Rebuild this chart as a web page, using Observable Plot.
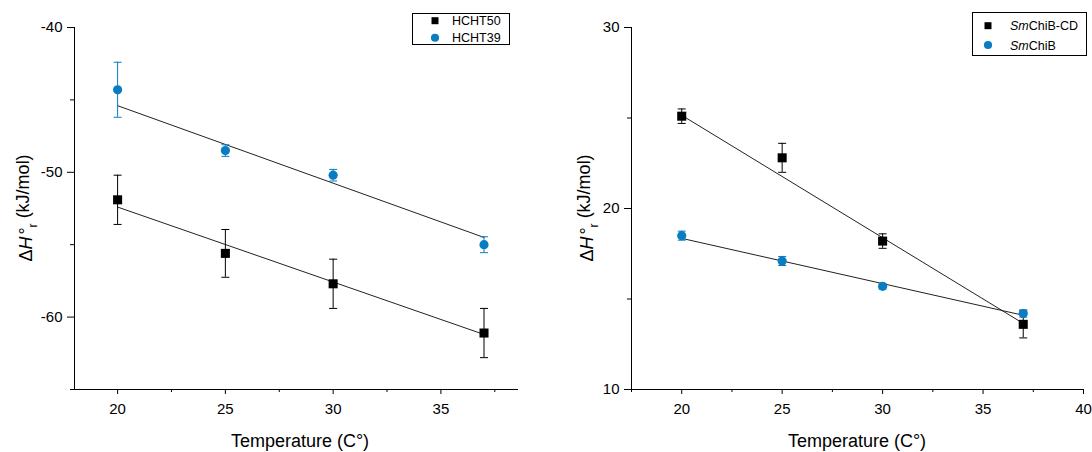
<!DOCTYPE html>
<html><head><meta charset="utf-8">
<script src="https://cdn.jsdelivr.net/npm/d3@7"></script>
<script src="https://cdn.jsdelivr.net/npm/@observablehq/plot@0.6"></script>
<style>
body{margin:0;background:#fff;}
#wrap{display:flex;width:1092px;height:452px;background:#fff;}
svg{display:block}
</style></head><body><div id="wrap"></div>
<script>
// ---- data ----
const temperatures = [20, 25, 30, 37];
const fitTemps = [20, 37];

const hcht50 = [-51.9, -55.6, -57.7, -61.1];
const hcht50Err = [1.7, 1.65, 1.7, 1.7];
const hcht50Fit = [-52.4, -61.2];
const hcht39 = [-44.3, -48.5, -50.2, -55.0];
const hcht39Err = [1.9, 0.4, 0.4, 0.55];
const hcht39Fit = [-45.4, -54.5];

const smChiBCD = [25.1, 22.8, 18.2, 13.6];
const smChiBCDErr = [0.4, 0.8, 0.4, 0.75];
const smChiBCDFit = [25.15, 13.65];
const smChiB = [18.5, 17.1, 15.7, 14.2];
const smChiBErr = [0.25, 0.25, 0.15, 0.2];
const smChiBFit = [18.35, 14.1];

const leftXDomain = [18, 38.6];
const leftYDomain = [-65, -40];
const leftXTicks = [20, 25, 30, 35];
const leftXMinor = [22.5, 27.5, 32.5, 37.5];
const leftYTicks = [-60, -50, -40];
const leftYMinor = [-65, -55, -45];

const rightXDomain = [17.5, 40];
const rightYDomain = [10, 30];
const rightXTicks = [20, 25, 30, 35, 40];
const rightXMinor = [17.5, 22.5, 27.5, 32.5, 37.5];
const rightYTicks = [10, 20, 30];
const rightYMinor = [15, 25];

const xLabel = "Temperature (C°)";

// ---- drawing ----
const BLACK = "#000";
const BLUE = "#0a7cc2";
const FONT = "'Liberation Sans', Arial, Helvetica, sans-serif";

const capSymbol = {
  draw(context, size) {
    const w = Math.sqrt(size / Math.PI);
    context.moveTo(-w, 0);
    context.lineTo(w, 0);
  }
};

function rowsOf(values, errors) {
  return temperatures.map((t, i) => ({t, v: values[i], e: errors[i]}));
}
function fitOf(fit) {
  return fitTemps.map((t, i) => ({t, v: fit[i]}));
}

function panel(cfg) {
  const m = cfg.margins;
  const marks = [
    Plot.ruleY([cfg.yDomain[0]], {stroke: BLACK, strokeWidth: 1}),
    Plot.ruleX([cfg.xDomain[0]], {stroke: BLACK, strokeWidth: 1}),
    Plot.axisX(cfg.xTicks, {tickSize: 5, tickPadding: 9, tickFormat: d => String(d), label: null}),
    Plot.axisX(cfg.xMinor, {tickSize: 3, tickFormat: () => "", label: null}),
    Plot.axisY(cfg.yTicks, {tickSize: 7, tickPadding: 5, tickFormat: d => String(d), label: null}),
    Plot.axisY(cfg.yMinor, {tickSize: 4, tickFormat: () => "", label: null})
  ];
  for (const s of cfg.series) {
    marks.push(Plot.line(fitOf(s.fit), {x: "t", y: "v", stroke: "#222", strokeWidth: 1}));
  }
  for (const s of cfg.series) {
    const rows = rowsOf(s.values, s.errors);
    marks.push(
      Plot.ruleX(rows, {x: "t", y1: d => d.v - d.e, y2: d => d.v + d.e, stroke: s.color, strokeWidth: 1}),
      Plot.dot(rows, {x: "t", y: d => d.v + d.e, symbol: capSymbol, r: 4, stroke: s.color, fill: "none", strokeWidth: 1}),
      Plot.dot(rows, {x: "t", y: d => d.v - d.e, symbol: capSymbol, r: 4, stroke: s.color, fill: "none", strokeWidth: 1})
    );
  }
  for (const s of cfg.series) {
    const rows = rowsOf(s.values, s.errors);
    marks.push(Plot.dot(rows, {x: "t", y: "v", symbol: s.symbol, r: s.r, fill: s.color, stroke: "none"}));
  }
  const svg = Plot.plot({
    width: cfg.width, height: 452,
    marginLeft: m.left, marginRight: m.right, marginTop: m.top, marginBottom: m.bottom,
    style: {fontFamily: FONT, fontSize: "15px", color: BLACK, background: "white", overflow: "visible"},
    x: {domain: cfg.xDomain},
    y: {domain: cfg.yDomain},
    marks
  });
  const g = d3.select(svg);
  const frameLeft = m.left, frameRight = cfg.width - m.right;
  const frameTop = m.top, frameBottom = 452 - m.bottom;

  // x axis label
  g.append("text")
    .attr("x", (frameLeft + frameRight) / 2 + cfg.xLabelShift)
    .attr("y", frameBottom + 58)
    .attr("text-anchor", "middle")
    .attr("font-family", FONT).attr("font-size", 18).attr("fill", BLACK)
    .text(xLabel);

  // y axis label: ΔH°r (kJ/mol)
  const cy = (frameTop + frameBottom) / 2;
  const t = g.append("text")
    .attr("transform", `translate(${cfg.yLabelX},${cy}) rotate(-90)`)
    .attr("text-anchor", "middle")
    .attr("font-family", FONT).attr("font-size", 18).attr("fill", BLACK);
  t.append("tspan").text("Δ");
  t.append("tspan").attr("font-style", "italic").text("H");
  t.append("tspan").attr("dx", 2).text("°");
  t.append("tspan").attr("dy", "0.45em").attr("font-size", 12).text("r");
  t.append("tspan").attr("dy", "-0.45em").text(" (kJ/mol)");

  // legend
  const L = cfg.legend;
  g.append("rect")
    .attr("x", L.x).attr("y", L.y).attr("width", L.w).attr("height", L.h)
    .attr("fill", "white").attr("stroke", BLACK).attr("stroke-width", 1);
  cfg.series.forEach((s, i) => {
    const y = L.rows[i];
    g.append("path")
      .attr("transform", `translate(${L.markerX},${y})`)
      .attr("d", d3.symbol(s.symbol === "square" ? d3.symbolSquare : d3.symbolCircle, s.symbol === "square" ? 49 : 52)())
      .attr("fill", s.color);
    const tx = g.append("text")
      .attr("x", L.textX).attr("y", y + 4.5)
      .attr("text-anchor", "start")
      .attr("font-family", FONT).attr("font-size", 12.5).attr("fill", BLACK);
    for (const part of s.label) {
      tx.append("tspan").attr("font-style", part.italic ? "italic" : "normal").text(part.text);
    }
  });
  return svg;
}

const leftSvg = panel({
  width: 546,
  margins: {left: 74, right: 28, top: 27, bottom: 63},
  xDomain: leftXDomain, yDomain: leftYDomain,
  xTicks: leftXTicks, xMinor: leftXMinor, yTicks: leftYTicks, yMinor: leftYMinor,
  xLabelShift: 4, yLabelX: 32,
  series: [
    {label: [{text: "HCHT50"}], values: hcht50, errors: hcht50Err, fit: hcht50Fit, color: BLACK, symbol: "square", r: 5.1},
    {label: [{text: "HCHT39"}], values: hcht39, errors: hcht39Err, fit: hcht39Fit, color: BLUE, symbol: "circle", r: 4.6}
  ],
  legend: {x: 412.5, y: 13.5, w: 97, h: 31, rows: [20.7, 37.7], markerX: 435, textX: 452}
});

const rightSvg = panel({
  width: 546,
  margins: {left: 85, right: 9, top: 27, bottom: 63},
  xDomain: rightXDomain, yDomain: rightYDomain,
  xTicks: rightXTicks, xMinor: rightXMinor, yTicks: rightYTicks, yMinor: rightYMinor,
  xLabelShift: 0, yLabelX: 47,
  series: [
    {label: [{text: "Sm", italic: true}, {text: "ChiB-CD"}], values: smChiBCD, errors: smChiBCDErr, fit: smChiBCDFit, color: BLACK, symbol: "square", r: 5.1},
    {label: [{text: "Sm", italic: true}, {text: "ChiB"}], values: smChiB, errors: smChiBErr, fit: smChiBFit, color: BLUE, symbol: "circle", r: 4.6}
  ],
  legend: {x: 426.5, y: 12.5, w: 114, h: 43, rows: [25.7, 45], markerX: 442, textX: 464}
});

document.getElementById("wrap").append(leftSvg, rightSvg);
</script></body></html>
